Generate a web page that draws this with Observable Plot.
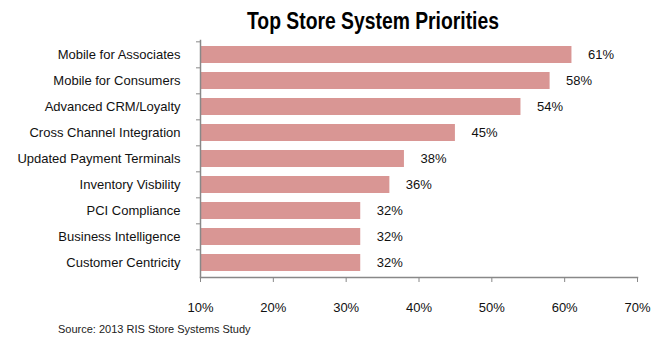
<!DOCTYPE html>
<html><head><meta charset="utf-8">
<script src="https://cdn.jsdelivr.net/npm/d3@7"></script>
<script src="https://cdn.jsdelivr.net/npm/@observablehq/plot@0.6"></script>
<style>
body{margin:0;background:#fff;font-family:"Liberation Sans",sans-serif;}
#wrap{width:663px;height:337px;position:relative;overflow:hidden;}
#title{height:38px;line-height:42px;width:663px;text-align:center;font-size:23px;font-weight:bold;color:#000;}
#title span{display:inline-block;transform:scaleX(0.84);margin-left:82px;}
#source{height:18px;font-size:11px;color:#222;padding-left:58px;line-height:20px;}
</style></head>
<body><div id="wrap">
<div id="title"><span>Top Store System Priorities</span></div>
<div id="chart"></div>
<div id="source">Source: 2013 RIS Store Systems Study</div>
</div>
<script>
const categories = ["Mobile for Associates","Mobile for Consumers","Advanced CRM/Loyalty","Cross Channel Integration","Updated Payment Terminals","Inventory Visbility","PCI Compliance","Business Intelligence","Customer Centricity"];
const values = [61,58,54,45,38,36,32,32,32];
const xTicks = [10,20,30,40,50,60,70];
const xMin = 10, xMax = 70;
const data = categories.map((c,i)=>({category:c, value:values[i]}));
const font = "Liberation Sans, Arial, sans-serif";
const plotH = 281, mTop = 2, mBottom = 42;
const step = (plotH - mTop - mBottom) / categories.length;
const chart = Plot.plot({
  width:663, height:plotH,
  marginTop:mTop, marginBottom:mBottom, marginLeft:200, marginRight:26,
  style:{fontFamily:font, fontSize:"13px", color:"#000", background:"#fff"},
  x:{domain:[xMin,xMax], ticks:xTicks, tickFormat:d=>d+"%", label:null},
  y:{domain:categories, paddingInner:0.35, paddingOuter:0.175, label:null},
  marks:[
    Plot.barX(data,{x1:()=>xMin, x2:"value", y:"category", fill:"#d99694"}),
    Plot.text(data,{x:"value", y:"category", text:d=>d.value+"%", textAnchor:"start", dx:16, fontSize:13, fill:"#111"}),
    Plot.frame({anchor:"bottom", stroke:"#888", strokeWidth:1.5}),
    Plot.frame({anchor:"left", stroke:"#888", strokeWidth:1.5}),
    Plot.axisX({ticks:xTicks, tickFormat:d=>d+"%", tickSize:5, tickPadding:20, stroke:"#888", fontSize:13, fill:"#111", label:null}),
    Plot.axisY({tickSize:4, text:null, stroke:"#888", dy:-step/2, label:null}),
    Plot.axisY({tickSize:0, tickPadding:20, fontSize:13, fill:"#111", label:null})
  ]
});
document.getElementById("chart").appendChild(chart);
</script>
</body></html>
